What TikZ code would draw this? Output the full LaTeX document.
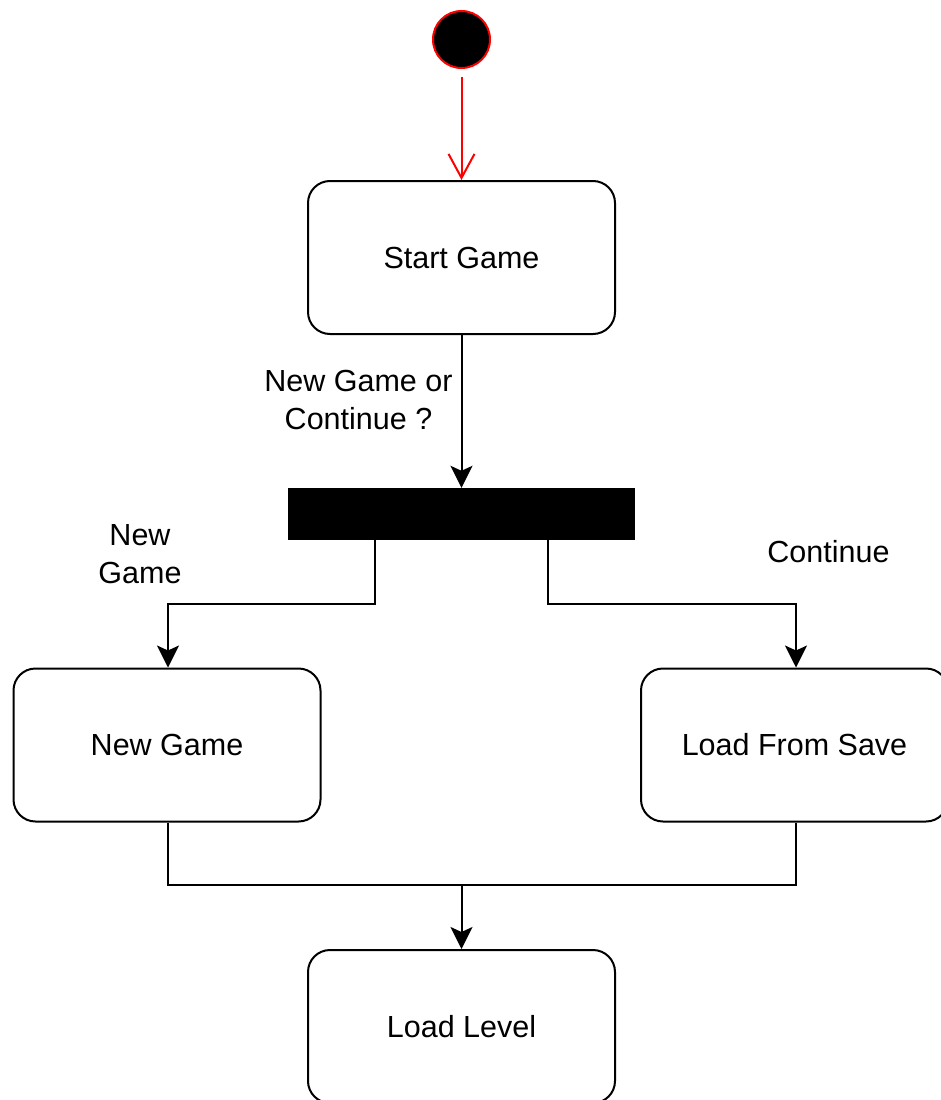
\documentclass[tikz,border=0pt]{standalone}
\usepackage{fontspec}
\setmainfont{Liberation Sans}
\usetikzlibrary{arrows.meta}

\tikzset{
  state/.style={draw=black, line width=2pt, rounded corners=22pt, fill=white,
    minimum width=307pt, minimum height=153pt, inner sep=0pt,
    font=\fontsize{30.5}{38}\selectfont, text=black},
  forkbar/.style={fill=black, draw=none, minimum width=347pt, minimum height=52pt, inner sep=0pt},
  initial/.style={circle, fill=black, draw=red, line width=2pt, minimum size=57pt, inner sep=0pt},
  flow/.style={draw=black, line width=2pt, -{Stealth[length=22pt, width=22pt, inset=5pt]}},
  plain/.style={draw=black, line width=2pt},
  startflow/.style={draw=red, line width=2pt, shorten <=8pt, -{Straight Barb[length=24pt, width=26pt]}},
  guard/.style={font=\fontsize{30.5}{38}\selectfont, text=black, align=center, inner sep=0pt}
}

\begin{document}
\begin{tikzpicture}[x=1pt, y=-1pt]
  \useasboundingbox (0,0) rectangle (940,1100);

  % initial state and first action
  \node[initial] (init) at (461.5,39.5) {};
  \node[state] (start) at (461.5,257.5) {Start Game};

  % fork bar
  \node[forkbar] (bar) at (461.5,514) {};

  % branch actions
  \node[state] (newgame) at (167,745) {New Game};
  \node[state] (load) at (794.5,745) {Load From Save};

  % final action
  \node[state] (level) at (461.5,1026.5) {Load Level};

  % guard labels
  \node[guard] (q) at (358.5,400) {New Game or\\Continue ?};
  \node[guard] (lblnew) at (140,554) {New\\Game};
  \node[guard] (lblcont) at (828.5,552) {Continue};

  % connectors
  \draw[startflow] (init.south) -- (start.north);
  \draw[flow] (start.south) -- (bar.north);
  \draw[flow] ([xshift=-86.5pt]bar.south) -- ++(0,64) -| ([xshift=1pt]newgame.north);
  \draw[flow] ([xshift=86.5pt]bar.south) -- ++(0,64) -| ([xshift=1.5pt]load.north);

  \coordinate (join) at (461.5,885);
  \draw[plain] ([xshift=1pt]newgame.south) |- (join) -| ([xshift=1.5pt]load.south);
  \draw[flow] (join) -- (level.north);
\end{tikzpicture}
\end{document}
